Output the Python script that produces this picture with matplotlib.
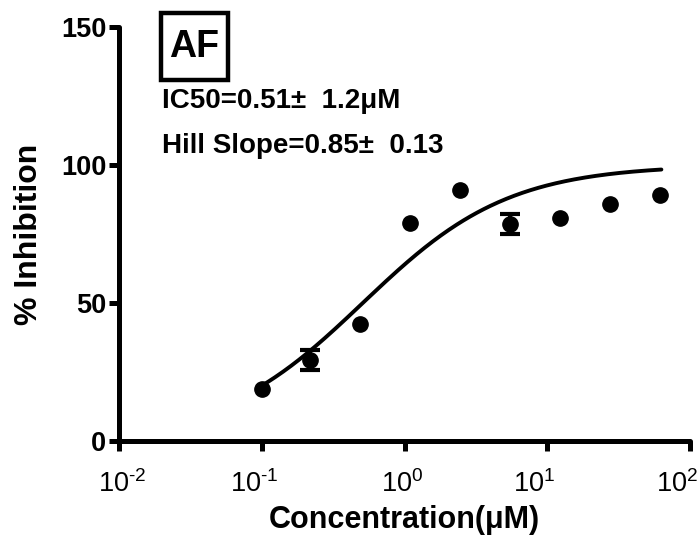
import numpy as np
import matplotlib
matplotlib.use("Agg")
import matplotlib.pyplot as plt
from matplotlib.ticker import FixedLocator, FuncFormatter, NullLocator
from matplotlib.patches import Rectangle
from matplotlib.transforms import ScaledTranslation

plt.rcParams['font.family'] = ['Liberation Sans', 'DejaVu Sans']
plt.rcParams['mathtext.fontset'] = 'custom'
plt.rcParams['mathtext.rm'] = 'Liberation Sans'
plt.rcParams['mathtext.it'] = 'Liberation Sans:italic'
plt.rcParams['mathtext.bf'] = 'Liberation Sans:bold'
plt.rcParams['axes.unicode_minus'] = False

# Data
conc = [0.1, 0.217, 0.486, 1.09, 2.44, 5.47, 12.3, 27.5, 61.5]
inhibition = [18.7, 29.3, 42.3, 78.9, 90.9, 78.6, 80.9, 85.8, 89.1]
err = [0, 3.6, 0, 0, 0, 3.6, 0, 0, 0]

# Fit parameters (shown on chart)
ic50 = 0.51
hill = 0.85
bottom_val = 0.0
top_val = 100.0
curve_range = (0.1, 63.0)

x_ticks = [1e-2, 1e-1, 1e0, 1e1, 1e2]
y_ticks = [0, 50, 100, 150]

fig = plt.figure(figsize=(6.97, 5.38), dpi=100)
ax = fig.add_axes([0.1707, 0.1803, 0.990 - 0.1707, 0.9498 - 0.1803])

xc = np.logspace(np.log10(curve_range[0]), np.log10(curve_range[1]), 300)
yc = bottom_val + (top_val - bottom_val) / (1 + (ic50 / xc) ** hill)
ax.plot(xc, yc, color='black', lw=2.8, solid_capstyle='round', zorder=3)

ax.plot(conc, inhibition, 'o', color='black', ms=11, zorder=4)
ex = [c for c, e in zip(conc, err) if e > 0]
ey = [v for v, e in zip(inhibition, err) if e > 0]
ee = [e for e in err if e > 0]
ax.errorbar(ex, ey, yerr=ee, fmt='none', ecolor='black', elinewidth=3,
            capsize=7, capthick=3, zorder=4)

ax.set_xscale('log')
ax.set_xlim(1e-2, 1e2)
ax.set_ylim(0, 150)
ax.xaxis.set_major_locator(FixedLocator(x_ticks))
ax.xaxis.set_minor_locator(NullLocator())

def fmt(v, pos):
    e = int(round(np.log10(v)))
    if e < 0:
        return r'$\mathregular{10^{\text{-}%d}}$' % (-e)
    return r'$\mathregular{10^{%d}}$' % e

ax.xaxis.set_major_formatter(FuncFormatter(fmt))
ax.yaxis.set_major_locator(FixedLocator(y_ticks))

for s in ['top', 'right']:
    ax.spines[s].set_visible(False)
for s in ['left', 'bottom']:
    ax.spines[s].set_linewidth(3.6)
    ax.spines[s].set_capstyle('round')

ax.tick_params(axis='both', which='major', direction='out', length=7, width=3.6,
               labelsize=19.5, color='black')
ax.tick_params(axis='y', pad=2)
ax.tick_params(axis='x', pad=14)
for lab in ax.get_yticklabels():
    lab.set_fontweight('bold')

offsets_px = [3, -7, -2, -13, -13]
for lab, dx in zip(ax.get_xticklabels(), offsets_px):
    lab.set_transform(lab.get_transform() + ScaledTranslation(dx / 100, 0, fig.dpi_scale_trans))

ax.set_xlabel('Concentration(μM)', fontsize=22, fontweight='bold', labelpad=5)
ax.set_ylabel('% Inhibition', fontsize=23, fontweight='bold', labelpad=12)

fig.patches.append(Rectangle((161 / 697, 1 - 80 / 538), 67 / 697, 67 / 538,
                             transform=fig.transFigure, fill=False,
                             ec='black', lw=3.2, figure=fig))
fig.text(194.5 / 697, 1 - 47 / 538, 'AF', fontsize=27, fontweight='bold',
         ha='center', va='center')
fig.text(162 / 697, 1 - 101 / 538, 'IC50=0.51±  1.2μM', fontsize=20,
         fontweight='bold', ha='left', va='center')
fig.text(162 / 697, 1 - 146 / 538, 'Hill Slope=0.85±  0.13', fontsize=20,
         fontweight='bold', ha='left', va='center')

fig.savefig('out.png', dpi=100)
